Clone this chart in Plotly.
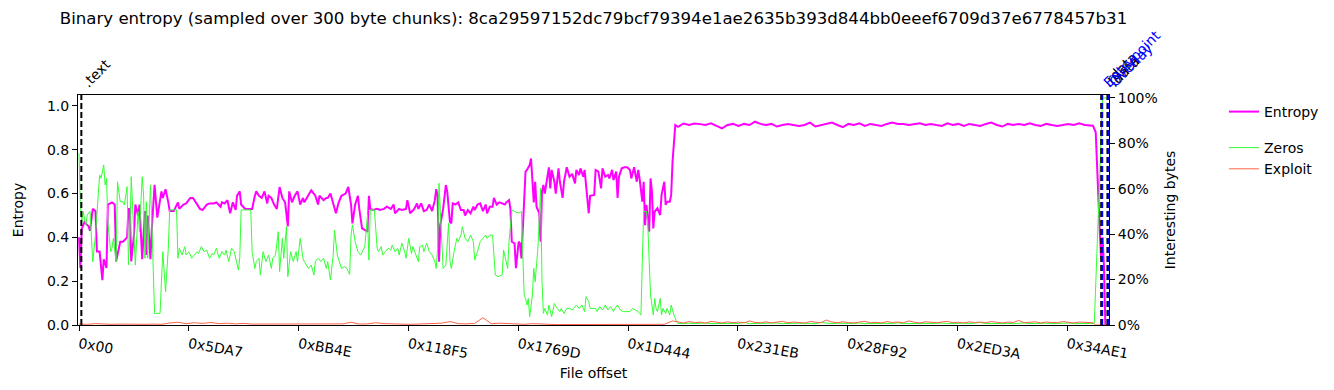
import plotly.graph_objects as go

# ---------------- data ----------------
CHUNK_BYTES = 300
X_RANGE = [-220, 224900]

title_text = ("Binary entropy (sampled over 300 byte chunks): "
              "8ca29597152dc79bcf79394e1ae2635b393d844bb0eeef6709d37e6778457b31")

tick_labels = ["0x00", "0x5DA7", "0xBB4E", "0x118F5", "0x1769D",
               "0x1D444", "0x231EB", "0x28F92", "0x2ED3A", "0x34AE1"]

section_names = [".text", ".rdata", ".data"]
section_offsets = [0x200, 223200, 224560]
marker_names = ["Entrypoint", "Overlay"]
marker_offsets = [223420, 224780]

# Entropy (chunk index, value)
entropy_chunks_a = [0,1,2,4,7,8,10,12,13,15,17,18,20,21,24,26,27,28,30,32,35,36,37,38,40,41,43,44,46,48,
                    49,50,52,53,55,57,58,60,61,63,65,66,69,72,73,76,78,81,83,86,88,90,93,95,98,100,103,104,106,108,
                    110,112,114,115,117,118,121,123,126,128,129,131,133,135,137,138,140,142,144,146,148,150,152,153,155,157,159,161,163,164,
                    167,169,172,174,175,178,180,181,183,185,187,189]
entropy_values_a = [0.40,0.26,0.44,0.47,0.45,0.43,0.53,0.52,0.335,0.335,0.205,0.30,0.26,0.55,0.56,0.55,0.29,0.32,0.38,0.38,
                    0.40,0.53,0.53,0.29,0.41,0.55,0.50,0.55,0.30,0.52,0.32,0.50,0.30,0.44,0.64,0.49,0.53,0.61,0.58,0.62,
                    0.56,0.52,0.52,0.56,0.53,0.55,0.555,0.58,0.58,0.55,0.53,0.525,0.55,0.555,0.555,0.56,0.54,0.56,0.555,0.57,
                    0.51,0.56,0.525,0.59,0.61,0.55,0.53,0.53,0.53,0.59,0.61,0.59,0.58,0.61,0.555,0.59,0.58,0.55,0.53,0.63,
                    0.58,0.56,0.45,0.61,0.56,0.59,0.61,0.55,0.58,0.56,0.59,0.615,0.59,0.55,0.59,0.57,0.58,0.58,0.60,0.55,
                    0.51,0.56]
entropy_chunks_b = [191,194,196,198,199,201,203,204,206,208,210,211,212,214,217,219,222,224,227,229,
                    230,233,235,238,239,241,244,246,247,249,251,253,255,257,259,260,261,262,263,265,
                    267,268,270,271,272,274,276,278,280,281,283,285,287,288,290,292,294,296,297,299,
                    301,302,304,306,308,310,311,313,314,315,317,318,320,321,322,324,325,326,328,329,
                    331,332,333,335,336,337,338,339,341,342,343,344,346,347,349,350,352,353,355,357,
                    359,361,362,364,365,367,368,370,371,372]
entropy_values_b = [0.59,0.60,0.63,0.55,0.464,0.55,0.59,0.53,0.441,0.434,0.426,0.59,0.53,0.525,0.53,0.525,0.53,0.54,0.53,0.55,
                    0.51,0.53,0.525,0.53,0.57,0.51,0.53,0.555,0.53,0.555,0.52,0.525,0.55,0.52,0.57,0.62,0.59,0.289,0.456,0.53,
                    0.639,0.61,0.47,0.464,0.555,0.55,0.56,0.525,0.525,0.50,0.525,0.51,0.54,0.525,0.55,0.555,0.52,0.55,0.51,0.54,
                    0.54,0.58,0.55,0.56,0.555,0.55,0.56,0.57,0.53,0.38,0.373,0.259,0.38,0.373,0.304,0.61,0.70,0.708,0.73,0.76,
                    0.56,0.654,0.54,0.51,0.38,0.61,0.639,0.60,0.685,0.72,0.624,0.708,0.654,0.60,0.715,0.654,0.58,0.654,0.72,0.677,
                    0.69,0.646,0.708,0.685,0.715,0.677,0.708,0.59,0.51,0.59]
entropy_chunks_c = [375,376,378,380,381,383,385,386,388,389,391,392,393,395,397,399,401,402,404,406,
                    407,408,410,411,412,413,415,416,417,418,419,421,423,424,426,427,428,430,431,432,434]
entropy_values_c = [0.594,0.708,0.70,0.624,0.715,0.677,0.685,0.669,0.708,0.662,0.70,0.58,0.677,0.715,0.72,0.72,0.708,0.669,0.72,0.654,
                    0.708,0.669,0.563,0.654,0.456,0.548,0.426,0.669,0.609,0.441,0.517,0.533,0.502,0.594,0.654,0.548,0.563,0.563,0.594,0.746,
                    0.913]
# plateau sampled every 4 chunks from chunk 436 to 736
plateau_chunks = list(range(436, 737, 4))
entropy_plateau = [0.905,0.92,0.913,0.92,
                   0.917,0.913,0.921,0.909,0.898,0.913,0.918,0.909,0.918,0.913,
                   0.928,0.918,0.913,0.918,0.906,0.913,0.918,0.913,0.909,0.913,
                   0.924,0.906,0.913,0.918,0.924,0.913,0.903,0.918,0.913,0.921,
                   0.909,0.918,0.913,0.909,0.918,0.924,0.918,0.918,0.913,0.918,
                   0.921,0.913,0.918,0.913,0.909,0.921,0.913,0.918,0.909,0.918,
                   0.913,0.909,0.918,0.924,0.913,0.906,0.918,0.913,0.918,0.913,
                   0.921,0.913,0.909,0.918,0.913,0.909,0.913,0.918,0.913,0.921,
                   0.913,0.913]
entropy_chunks_tail = [738,740,741,742,743,744,745,746,747,749]
entropy_values_tail = [0.91,0.88,0.70,0.52,0.42,0.30,0.40,0.27,0.0,0.0]

# Zeros share (fraction of bytes)
zeros_chunks_a = [0,1,2,3,5,6,8,9,10,12,14,15,16,18,19,20,21,23,24,25,27,28,30,32,33,35,36,37,38,40,
                  41,43,44,46,47,48,49,50,52,53,54,55,57,59,60,61,63,64,65,66,68,70,71,72,73,75,77,78,80,82,
                  84,86,87,89,91,93,95,97,98,100,102,104,106,107,109,111,113,115,116,117,118,121,123,125,126,128,129,131,132,134,
                  136,138,140,141,143,145,146,148,149,151,152,154,156,158,159,161,163,164,167,169,171,172,174,176,178,180,181,183,185,186,
                  188]
zeros_values_a = [0.756,0.529,0.455,0.5,0.44,0.485,0.5,0.396,0.279,0.396,0.573,0.661,0.646,0.705,0.617,0.646,0.455,0.323,0.338,0.382,
                  0.279,0.631,0.543,0.543,0.529,0.609,0.264,0.396,0.653,0.426,0.264,0.5,0.411,0.653,0.573,0.294,0.543,0.294,0.617,0.455,
                  0.235,0.051,0.051,0.051,0.19,0.323,0.146,0.249,0.338,0.507,0.507,0.507,0.507,0.294,0.338,0.308,0.345,0.308,0.323,0.294,
                  0.308,0.323,0.315,0.345,0.323,0.33,0.294,0.315,0.308,0.338,0.294,0.323,0.308,0.33,0.279,0.338,0.323,0.264,0.242,0.294,
                  0.507,0.507,0.507,0.507,0.323,0.249,0.279,0.294,0.22,0.323,0.279,0.308,0.249,0.294,0.308,0.411,0.235,0.382,0.294,0.433,
                  0.213,0.323,0.279,0.323,0.279,0.382,0.294,0.279,0.249,0.264,0.22,0.279,0.294,0.279,0.294,0.249,0.279,0.198,0.308,0.418,
                  0.308]
zeros_chunks_b = [191,193,195,196,197,198,199,201,203,205,207,208,210,211,212,213,215,217,218,220,
                  221,223,225,227,228,230,232,233,235,237,238,240,242,243,245,247,248,250,251,253,
                  255,257,259,260,261,262,263,265,267,268,269,270,271,273,275,276,278,279,281,283,
                  285,287,288,290,292,294,296,297,299,301,303,305,308,309,311,312,313,315,317,320,
                  322,323,324,325,326,327,328,330,331,332,333,334,336,337,338,339,341,342,344,346,
                  348,350,351,353,355,357,359,360,362,364,366,368,369,371,372]
zeros_values_b = [0.249,0.257,0.249,0.235,0.223,0.396,0.441,0.367,0.323,0.308,0.338,0.345,0.485,0.286,0.507,0.507,0.507,0.338,0.323,0.345,
                  0.308,0.323,0.338,0.33,0.352,0.323,0.338,0.308,0.36,0.323,0.294,0.382,0.315,0.345,0.308,0.279,0.345,0.352,0.323,0.36,
                  0.323,0.308,0.279,0.249,0.338,0.624,0.5,0.249,0.264,0.338,0.448,0.279,0.249,0.323,0.382,0.367,0.396,0.433,0.382,0.367,
                  0.396,0.367,0.286,0.323,0.367,0.382,0.396,0.382,0.396,0.396,0.22,0.213,0.22,0.33,0.279,0.249,0.367,0.507,0.5,0.493,
                  0.5,0.308,0.132,0.117,0.088,0.117,0.037,0.132,0.249,0.19,0.279,0.338,0.602,0.19,0.051,0.073,0.044,0.088,0.037,0.095,
                  0.073,0.059,0.073,0.051,0.073,0.073,0.066,0.073,0.088,0.073,0.088,0.059,0.125,0.103,0.073]
zeros_chunks_c = [376,377,379,381,383,385,387,389,390,392,394,396,398,399,401,403,405,407,408,409,
                  410,411,413,414,415,416,418,419,420,421,423,424,425,427,428,430,431,433,435]
zeros_values_c = [0.073,0.059,0.081,0.066,0.088,0.066,0.081,0.059,0.073,0.088,0.066,0.059,0.059,0.059,0.059,0.073,0.066,0.059,0.051,0.044,
                  0.279,0.5,0.5,0.441,0.279,0.132,0.044,0.117,0.073,0.059,0.117,0.044,0.073,0.051,0.073,0.044,0.088,0.044,0.015]
zeros_plateau = [0.007,0.006,0.008,0.006,0.007,0.009,0.006,0.007,0.006,0.008,
                 0.007,0.006,0.012,0.006,0.007,0.008,0.006,0.007,0.009,0.006,
                 0.007,0.006,0.008,0.006,0.007,0.006,0.011,0.007,0.006,0.008,
                 0.006,0.007,0.006,0.009,0.006,0.007,0.008,0.006,0.007,0.006,
                 0.010,0.006,0.007,0.006,0.008,0.007,0.006,0.007,0.009,0.006,
                 0.007,0.006,0.008,0.006,0.007,0.011,0.006,0.007,0.006,0.008,
                 0.007,0.006,0.007,0.009,0.006,0.007,0.006,0.008,0.006,0.007,
                 0.006,0.009,0.006,0.007,0.006,0.007]
zeros_chunks_tail = [738,739,745,749]
zeros_values_tail = [0.006,0.01,1.0,1.0]

# Exploit-pattern share
exploit_chunks_a = list(range(0, 433, 6))
exploit_values_a = [0.004,0.003,0.006,0.004,0.003,0.004,0.003,0.004,0.003,0.004,
                    0.003,0.009,0.012,0.006,0.010,0.007,0.011,0.006,0.008,0.005,
                    0.007,0.004,0.004,0.003,0.004,0.003,0.004,0.003,0.005,0.004,
                    0.004,0.003,0.005,0.012,0.004,0.005,0.010,0.006,0.004,0.005,
                    0.003,0.004,0.006,0.005,0.008,0.015,0.006,0.005,0.007,0.032,
                    0.006,0.008,0.006,0.003,0.003,0.006,0.003,0.003,0.002,0.002,
                    0.003,0.002,0.003,0.002,0.003,0.002,0.002,0.002,0.003,0.003,
                    0.004,0.003,0.018]
exploit_plateau = [0.012,0.009,0.015,0.010,0.013,0.008,0.016,0.011,0.009,0.014,
                   0.010,0.013,0.009,0.018,0.011,0.010,0.014,0.009,0.012,0.016,
                   0.010,0.013,0.011,0.009,0.015,0.012,0.010,0.022,0.013,0.010,
                   0.014,0.011,0.009,0.013,0.016,0.010,0.012,0.009,0.015,0.011,
                   0.013,0.010,0.018,0.012,0.009,0.014,0.011,0.010,0.013,0.016,
                   0.010,0.012,0.009,0.014,0.011,0.013,0.010,0.015,0.012,0.009,
                   0.013,0.011,0.020,0.010,0.012,0.014,0.009,0.013,0.011,0.010,
                   0.015,0.012,0.009,0.013,0.011,0.010]
exploit_chunks_tail = [738,740,749]
exploit_values_tail = [0.010,0.0,0.0]

# ---------------- assemble ----------------
def offsets(*chunk_lists):
    out = []
    for cl in chunk_lists:
        out.extend(c * CHUNK_BYTES for c in cl)
    return out

entropy_x = offsets(entropy_chunks_a, entropy_chunks_b, entropy_chunks_c, plateau_chunks, entropy_chunks_tail)
entropy_y = entropy_values_a + entropy_values_b + entropy_values_c + entropy_plateau + entropy_values_tail
zeros_x = offsets(zeros_chunks_a, zeros_chunks_b, zeros_chunks_c, plateau_chunks, zeros_chunks_tail)
zeros_y = zeros_values_a + zeros_values_b + zeros_values_c + zeros_plateau + zeros_values_tail
exploit_x = offsets(exploit_chunks_a, plateau_chunks, exploit_chunks_tail)
exploit_y = exploit_values_a + exploit_plateau + exploit_values_tail

FONT = "DejaVu Sans"
fig = go.Figure()
fig.add_trace(go.Scatter(x=entropy_x, y=entropy_y, name="Entropy", mode="lines",
                         line=dict(color="#ff00ff", width=2), yaxis="y", legend="legend"))
fig.add_trace(go.Scatter(x=zeros_x, y=zeros_y, name="Zeros", mode="lines",
                         line=dict(color="#33ff33", width=1), yaxis="y2", legend="legend2"))
fig.add_trace(go.Scatter(x=exploit_x, y=exploit_y, name="Exploit", mode="lines",
                         line=dict(color="#ff6347", width=1), yaxis="y2", legend="legend2"))

shapes = []
annotations = []
for name, off in zip(section_names, section_offsets):
    shapes.append(dict(type="line", xref="x", yref="paper", x0=off, x1=off, y0=0, y1=1,
                       line=dict(color="black", width=2, dash="6px,3px")))
    annotations.append(dict(x=off, y=1, xref="x", yref="paper", text=name, showarrow=False,
                            textangle=-45, xanchor="left", yanchor="bottom", yshift=2, xshift=-5,
                            font=dict(family=FONT, size=14, color="black")))
for name, off in zip(marker_names, marker_offsets):
    shapes.append(dict(type="line", xref="x", yref="paper", x0=off, x1=off, y0=0, y1=1,
                       line=dict(color="blue", width=2, dash="6px,3px")))
    annotations.append(dict(x=off, y=1, xref="x", yref="paper", text=name, showarrow=False,
                            textangle=-45, xanchor="left", yanchor="bottom", yshift=2, xshift=-5,
                            font=dict(family=FONT, size=14, color="blue")))

axis_common = dict(showline=True, linecolor="black", linewidth=1, ticks="outside", ticklen=5,
                   tickwidth=1, tickcolor="black", showgrid=False, zeroline=False, automargin=False,
                   tickfont=dict(family=FONT, size=14, color="black"))

fig.update_layout(
    width=1334, height=390,
    margin=dict(l=78, r=225, t=95, b=65, autoexpand=False),
    paper_bgcolor="white", plot_bgcolor="white",
    font=dict(family=FONT, size=14, color="black"),
    title=dict(text=title_text, x=0.5, xref="paper", xanchor="center",
               y=1 - 18 / 390, yref="container", yanchor="middle",
               font=dict(family=FONT, size=16.6, color="black")),
    xaxis=dict(range=X_RANGE, tickvals=[int(t, 16) for t in tick_labels], ticktext=tick_labels,
               tickangle=10, mirror=True,
               title=dict(text="File offset", standoff=7, font=dict(family=FONT, size=14, color="black")),
               **axis_common),
    yaxis=dict(range=[0, 1.05], tickvals=[0, 0.2, 0.4, 0.6, 0.8, 1.0], tickformat=".1f",
               title=dict(text="Entropy", standoff=20, font=dict(family=FONT, size=14, color="black")),
               **axis_common),
    yaxis2=dict(range=[0, 1.013], overlaying="y", side="right", anchor="x",
                tickvals=[0, 0.2, 0.4, 0.6, 0.8, 1.0], tickformat=".0%",
                title=dict(text="Interesting bytes", standoff=8, font=dict(family=FONT, size=14, color="black")),
                **axis_common),
    legend=dict(x=1224 / 1334, y=1 - 96 / 390, xref="container", yref="container",
                xanchor="left", yanchor="top", bgcolor="rgba(0,0,0,0)",
                font=dict(family=FONT, size=14, color="black")),
    legend2=dict(x=1224 / 1334, y=1 - 132 / 390, xref="container", yref="container",
                 xanchor="left", yanchor="top", bgcolor="rgba(0,0,0,0)",
                 font=dict(family=FONT, size=14, color="black"), tracegroupgap=0),
    shapes=shapes,
    annotations=annotations,
    showlegend=True,
)

fig.write_html("out.html")
